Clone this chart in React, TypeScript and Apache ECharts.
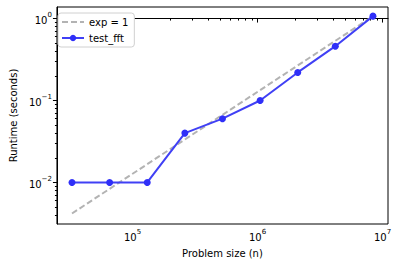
import React, { useEffect, useRef } from "react";
import * as echarts from "echarts";

const problemSizes = [32768, 65536, 131072, 262144, 524288, 1048576, 2097152, 4194304, 8388608];
const runtimes = [0.01, 0.01, 0.01, 0.04, 0.06, 0.1, 0.22, 0.46, 1.07];
const refLineSizes = [32768, 8388608];
const refLineTimes = [0.00418, 1.07];
const xTickExponents = [5, 6, 7];
const yTickExponents = [-2, -1, 0];

const X_MIN = 4.395;
const X_MAX = 7.044;
const Y_MIN = -2.507;
const Y_MAX = 0.141;

function minorTicks(lo: number, hi: number): number[] {
  const out: number[] = [];
  for (let d = Math.floor(lo) - 1; d <= Math.ceil(hi); d++) {
    for (let k = 2; k <= 9; k++) {
      const v = d + Math.log10(k);
      if (v > lo && v < hi) out.push(v);
    }
  }
  return out;
}

const FONT = "DejaVu Sans";

function supLabel(exp: number) {
  const e = exp < 0 ? "\u2212" + Math.abs(exp) : String(exp);
  return `{b|10}{s|${e}}`;
}

const rich = {
  b: { fontSize: 10, fontFamily: FONT, color: "#000", verticalAlign: "bottom", lineHeight: 14 },
  s: { fontSize: 7, fontFamily: FONT, color: "#000", verticalAlign: "top", lineHeight: 14 },
};

export default function App() {
  const ref = useRef<HTMLDivElement>(null);
  useEffect(() => {
    if (!ref.current) return;
    const chart = echarts.init(ref.current, undefined, { renderer: "svg" });
    const logPairs = (xs: number[], ys: number[]) => xs.map((x, i) => [Math.log10(x), Math.log10(ys[i])]);
    const axisLine = { show: true, lineStyle: { color: "#000", width: 1 } };
    chart.setOption({
      animation: false,
      backgroundColor: "#fff",
      textStyle: { fontFamily: FONT },
      grid: {
        left: 53, right: 10, top: 7, bottom: 42,
        show: true, borderColor: "#000", borderWidth: 1, backgroundColor: "transparent",
      },
      legend: {
        orient: "vertical",
        left: 58, top: 13,
        itemWidth: 22, itemHeight: 8, itemGap: 6,
        padding: [4, 6, 4, 3],
        backgroundColor: "#fff",
        borderColor: "#d0d0d0", borderWidth: 1, borderRadius: 3,
        textStyle: { fontSize: 10, fontFamily: FONT, color: "#000" },
        data: [
          { name: "exp = 1", itemStyle: { opacity: 0 } },
          { name: "test_fft" },
        ],
      },
      xAxis: [
        {
          type: "value", min: X_MIN, max: X_MAX,
          name: "Problem size (n)", nameLocation: "middle", nameGap: 24,
          nameTextStyle: { fontSize: 10, fontFamily: FONT, color: "#000" },
          axisLine, splitLine: { show: false },
          axisTick: { show: true, length: 4, inside: false, customValues: xTickExponents, lineStyle: { color: "#000" } },
          axisLabel: {
            customValues: xTickExponents, margin: 4,
            formatter: (v: number) => supLabel(Math.round(v)), rich,
          },
        },
        {
          type: "value", min: X_MIN, max: X_MAX, position: "bottom",
          axisLine: { show: false }, splitLine: { show: false }, axisLabel: { show: false },
          axisTick: { show: true, length: 2, customValues: minorTicks(X_MIN, X_MAX), lineStyle: { color: "#000" } },
        },
      ],
      yAxis: [
        {
          type: "value", min: Y_MIN, max: Y_MAX,
          name: "Runtime (seconds)", nameLocation: "middle", nameGap: 36,
          nameTextStyle: { fontSize: 10, fontFamily: FONT, color: "#000" },
          axisLine, splitLine: { show: false },
          axisTick: { show: true, length: 4, inside: false, customValues: yTickExponents, lineStyle: { color: "#000" } },
          axisLabel: {
            customValues: yTickExponents, margin: 5,
            formatter: (v: number) => supLabel(Math.round(v)), rich,
          },
        },
        {
          type: "value", min: Y_MIN, max: Y_MAX, position: "left",
          axisLine: { show: false }, splitLine: { show: false }, axisLabel: { show: false },
          axisTick: { show: true, length: 2, customValues: minorTicks(Y_MIN, Y_MAX), lineStyle: { color: "#000" } },
        },
      ],
      series: [
        {
          name: "exp = 1", type: "line", xAxisIndex: 0, yAxisIndex: 0,
          data: logPairs(refLineSizes, refLineTimes),
          symbol: "none",
          lineStyle: { color: "#b3b3b3", width: 2, type: [6, 3] },
          itemStyle: { color: "#b3b3b3" },
          z: 2,
        },
        {
          name: "test_fft", type: "line", xAxisIndex: 0, yAxisIndex: 0,
          data: logPairs(problemSizes, runtimes),
          symbol: "circle", symbolSize: 7,
          lineStyle: { color: "#4040f5", width: 2 },
          itemStyle: { color: "#2f2ff8", borderWidth: 0 },
          z: 3,
        },
      ],
    });
    return () => chart.dispose();
  }, []);
  return <div ref={ref} style={{ width: 398, height: 266, position: "absolute", left: 0, top: 0 }} />;
}
